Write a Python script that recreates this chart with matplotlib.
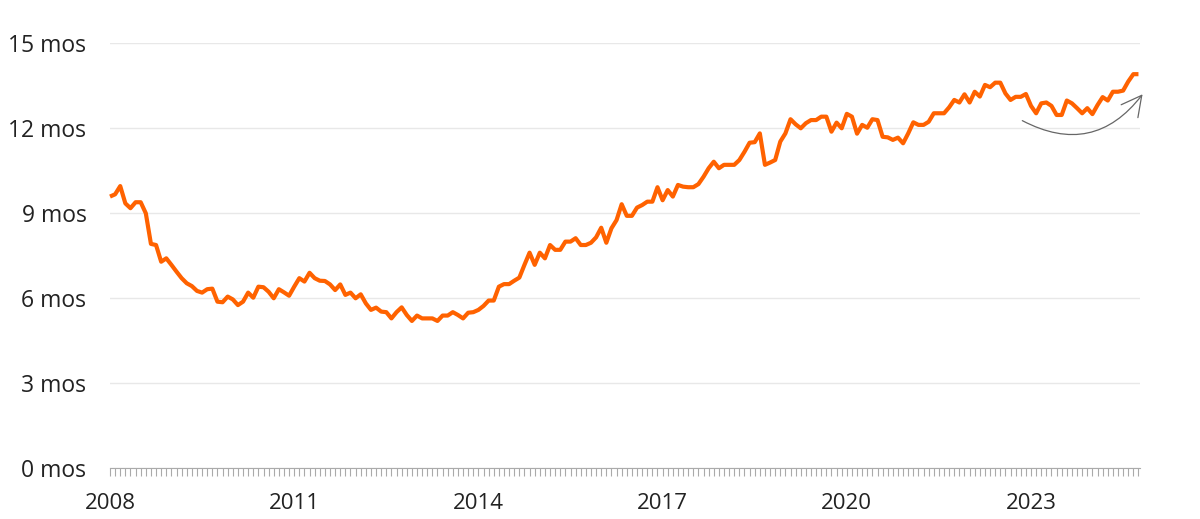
import matplotlib
matplotlib.use("Agg")
import matplotlib.pyplot as plt
import numpy as np
import pandas as pd

# months of coverage, monthly from Jan 2008
months_cover = [
    9.58, 9.66, 9.95, 9.34, 9.17, 9.38, 9.38, 8.99, 7.91, 7.87, 7.28, 7.40,   # 2008
    7.17, 6.93, 6.70, 6.52, 6.42, 6.25, 6.19, 6.31, 6.33, 5.87, 5.85, 6.05,   # 2009
    5.95, 5.75, 5.87, 6.19, 6.01, 6.40, 6.38, 6.22, 5.99, 6.31, 6.20, 6.08,   # 2010
    6.40, 6.70, 6.58, 6.89, 6.70, 6.61, 6.60, 6.48, 6.28, 6.48, 6.11, 6.19,   # 2011
    5.99, 6.13, 5.81, 5.58, 5.66, 5.52, 5.50, 5.28, 5.50, 5.67, 5.40, 5.19,   # 2012
    5.38, 5.28, 5.28, 5.28, 5.19, 5.38, 5.38, 5.50, 5.40, 5.28, 5.48, 5.50,   # 2013
    5.58, 5.72, 5.91, 5.91, 6.40, 6.49, 6.49, 6.61, 6.72, 7.17, 7.60, 7.17,   # 2014
    7.60, 7.40, 7.87, 7.70, 7.70, 7.99, 7.99, 8.11, 7.87, 7.87, 7.95, 8.14,   # 2015
    8.48, 7.95, 8.46, 8.75, 9.31, 8.90, 8.90, 9.19, 9.28, 9.40, 9.40, 9.91,   # 2016
    9.45, 9.81, 9.58, 9.99, 9.93, 9.91, 9.91, 10.02, 10.28, 10.58, 10.81, 10.58,  # 2017
    10.70, 10.70, 10.70, 10.87, 11.16, 11.48, 11.50, 11.81, 10.70, 10.78, 10.87, 11.52,  # 2018
    11.81, 12.31, 12.13, 11.99, 12.17, 12.28, 12.28, 12.40, 12.40, 11.87, 12.19, 11.99,  # 2019
    12.50, 12.40, 11.80, 12.11, 12.01, 12.31, 12.28, 11.69, 11.67, 11.58, 11.66, 11.46,  # 2020
    11.81, 12.20, 12.11, 12.11, 12.22, 12.52, 12.52, 12.52, 12.73, 12.99, 12.90, 13.19,  # 2021
    12.90, 13.28, 13.11, 13.52, 13.44, 13.60, 13.60, 13.22, 12.99, 13.10, 13.10, 13.20,  # 2022
    12.78, 12.52, 12.87, 12.90, 12.78, 12.46, 12.46, 12.97, 12.87, 12.70, 12.52, 12.70,  # 2023
    12.49, 12.81, 13.09, 12.97, 13.28, 13.28, 13.32, 13.64, 13.90, 13.90,  # 2024
]
dates = pd.date_range("2008-01-01", periods=len(months_cover), freq="MS")
year_labels = ["2008", "2011", "2014", "2017", "2020", "2023"]
y_ticks = [0, 3, 6, 9, 12, 15]
y_labels = [f"{v} mos" for v in y_ticks]

# month index used as x position
x = (dates.year - 2008) * 12 + (dates.month - 1)
year_pos = [(int(y) - 2008) * 12 for y in year_labels]

plt.rcParams["font.family"] = ["Open Sans", "DejaVu Sans"]

fig = plt.figure(figsize=(12, 5.19), dpi=100)
ax = fig.add_axes([110 / 1200, 51 / 519, 1030 / 1200, 425 / 519])

ax.plot(x, months_cover, color="#FF6200", lw=3.0, solid_joinstyle="round",
        solid_capstyle="butt", clip_on=False, zorder=3)

ax.set_xlim(0, x[-1] + 0.3)
ax.set_ylim(0, 15)

ax.set_yticks(y_ticks)
ax.set_yticklabels(y_labels)
ax.yaxis.grid(True, color="#e8e8e8", lw=1)
ax.set_axisbelow(True)

ax.set_xticks(year_pos)
ax.set_xticklabels(year_labels)
ax.set_xticks(np.arange(0, x[-1] + 1), minor=True)
ax.tick_params(axis="x", which="both", length=6, color="#aaaaaa", width=0.8,
               direction="out")
ax.tick_params(axis="x", which="major", pad=12, labelsize=16, labelcolor="#222222")
ax.tick_params(axis="y", length=0, pad=17, labelsize=16.5, labelcolor="#222222")

for s in ["top", "right", "left"]:
    ax.spines[s].set_visible(False)
ax.spines["bottom"].set_color("#aaaaaa")
ax.spines["bottom"].set_linewidth(0.8)

# curved arrow
ax.annotate("", xy=(201.8, 13.19), xytext=(178.3, 12.26),
            arrowprops=dict(arrowstyle="->,head_length=0.72,head_width=0.38",
                            connectionstyle="arc3,rad=0.42", color="#666666",
                            lw=0.9, mutation_scale=20, shrinkA=0, shrinkB=0),
            annotation_clip=False)

fig.savefig("out.png", dpi=100, facecolor="white")
